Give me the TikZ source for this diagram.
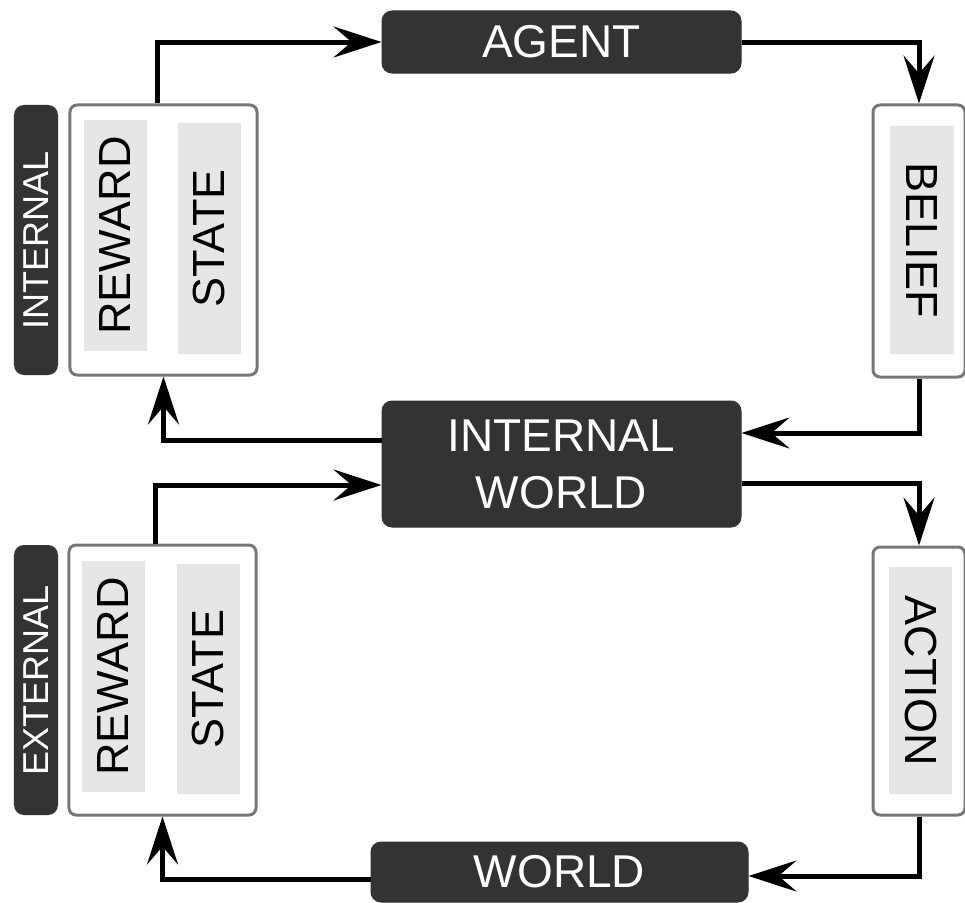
\documentclass[tikz,border=0pt]{standalone}
\usepackage{fontspec}
\setmainfont{Liberation Sans}
\usetikzlibrary{arrows.meta}
\definecolor{boxdark}{HTML}{333333}
\definecolor{boxedge}{HTML}{777777}
\definecolor{fieldgray}{HTML}{E6E6E6}
\tikzset{
	darkbox/.style={fill=boxdark, draw=boxdark, line width=1bp, rounded corners=10bp, text=white, inner sep=0pt, align=center, font=\fontsize{46bp}{57bp}\selectfont},
	framebox/.style={fill=white, draw=boxedge, line width=3bp, rounded corners=7bp, inner sep=0pt},
	fieldbox/.style={fill=fieldgray, inner sep=0pt, font=\fontsize{45bp}{54bp}\selectfont},
	tagbox/.style={fill=boxdark, rounded corners=10bp, text=white, inner sep=0pt, font=\fontsize{36bp}{43bp}\selectfont},
	flow/.style={line width=5bp, -{Stealth[length=48bp, width=31bp, inset=18bp]}},
}

\begin{document}
\begin{tikzpicture}[x=1bp, y=-1bp]
		%%%%% START %%%%%
		\useasboundingbox (0, 0) rectangle (965, 903);
		
		\node[darkbox, minimum width=359bp, minimum height=62bp] (agent) at (561.5, 42) {AGENT};
		\node[darkbox, minimum width=359bp, minimum height=126bp] (iworld) at (561.5, 464) {INTERNAL\\WORLD};
		\node[darkbox, minimum width=377bp, minimum height=60bp] (world) at (559.5, 872) {WORLD};
		
		% internal side
		\node[tagbox, rotate=90, minimum width=270bp, minimum height=44bp] (inttag) at (36, 240) {INTERNAL};
		\node[framebox, minimum width=187bp, minimum height=270bp] (intbox) at (163.5, 240) {};
		\node[fieldbox, rotate=90, minimum width=231bp, minimum height=63bp] (intrew) at (115.5, 235.5) {REWARD};
		\node[fieldbox, rotate=90, minimum width=231bp, minimum height=63bp] (intstate) at (209.5, 238.5) {STATE};
		
		% external side
		\node[tagbox, rotate=90, minimum width=270bp, minimum height=44bp] (exttag) at (36, 680) {EXTERNAL};
		\node[framebox, minimum width=187bp, minimum height=270bp] (extbox) at (162.5, 680) {};
		\node[fieldbox, rotate=90, minimum width=231bp, minimum height=63bp] (extrew) at (113.5, 676.5) {REWARD};
		\node[fieldbox, rotate=90, minimum width=230bp, minimum height=63bp] (extstate) at (208.5, 679) {STATE};
		
		% right side
		\node[framebox, minimum width=92bp, minimum height=272bp] (belief) at (919, 241) {};
		\node[fieldbox, rotate=-90, minimum width=228bp, minimum height=64bp] (belieftxt) at (922, 240) {BELIEF};
		\node[framebox, minimum width=92bp, minimum height=268bp] (action) at (919, 681) {};
		\node[fieldbox, rotate=-90, minimum width=227bp, minimum height=63bp] (actiontxt) at (920.5, 680.5) {ACTION};
		
		% loops
		\draw[flow] ([xshift=-6.5bp]intbox.north) |- (agent.west);
		\draw[flow] (agent.east) -| (belief.north);
		\draw[flow] (belief.south) |- ([yshift=31bp]iworld.east);
		\draw[flow] ([yshift=24bp]iworld.west) -| (intbox.south);
		
		\draw[flow] ([xshift=-7bp]extbox.north) |- ([yshift=-21bp]iworld.west);
		\draw[flow] ([yshift=-19bp]iworld.east) -| (action.north);
		\draw[flow] (action.south) |- ([yshift=-4bp]world.east);
		\draw[flow] ([yshift=-7bp]world.west) -| (extbox.south);
		
		%%%%% END %%%%%
	\end{tikzpicture}
\end{document}
